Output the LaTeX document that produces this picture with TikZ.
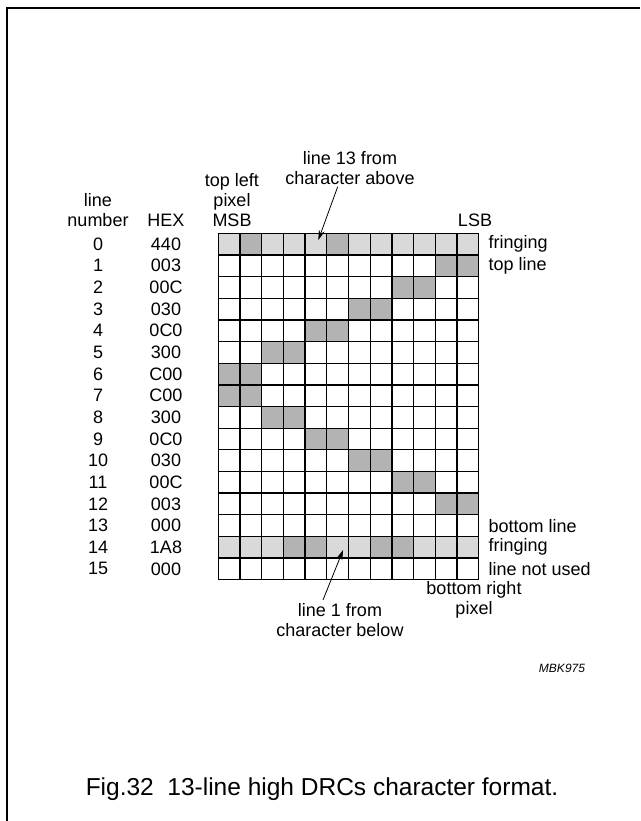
\documentclass[tikz,border=0pt]{standalone}
\usepackage{fontspec}
\setmainfont{Liberation Sans}
\usetikzlibrary{arrows.meta}
\definecolor{fringe}{HTML}{D9D9D9}
\definecolor{pixon}{HTML}{B3B3B3}

\begin{document}
\begin{tikzpicture}[x=1pt, y=-1pt,
    lbl/.style={inner sep=0pt, align=center, font=\fontsize{18}{20}\selectfont},
    side/.style={lbl, anchor=west},
    pointer/.style={-{Stealth[length=10pt,width=6pt]}, line width=0.8pt},
    gridline/.style={line width=1.3pt},
]
\useasboundingbox (0,0) rectangle (640,821);
% frame
\draw[line width=1.6pt] (7,821) -- (7,8) -- (640,8);

% headings
\node[lbl] (linehdr) at (98,210) {line\\number};
\node[lbl] (hexhdr) at (166,220) {HEX};
\node[lbl] (msb) at (232,200) {top left\\pixel\\MSB};
\node[lbl] (lsb) at (475,220) {LSB};
\node[lbl] (above) at (350,168) {line 13 from\\character above};

% character cell
\begin{scope}[shift={(218.3,233.3)}, x=21.7pt, y=-21.65pt]
  \fill[fringe] (0,0) rectangle (12,1);
  \fill[fringe] (0,14) rectangle (12,15);
  \foreach \r/\cols in {0/{1,5},1/{10,11},2/{8,9},3/{6,7},4/{4,5},5/{2,3},6/{0,1},
      7/{0,1},8/{2,3},9/{4,5},10/{6,7},11/{8,9},12/{10,11},14/{3,4,7,8}}
    \foreach \c in \cols
      \fill[pixon] (\c,\r) rectangle ++(1,1);
  \foreach \c in {0,...,12}
    \draw[gridline] (\c,0) -- (\c,16);
  \foreach \r in {0,...,16}
    \draw[gridline] (0,\r) -- (12,\r);

  % line numbers and hex codes
  \foreach \h [count=\r from 0] in {440,003,00C,030,0C0,300,C00,C00,300,0C0,030,00C,003,000,1A8,000} {
    \node[lbl] (num\r) at (-5.54,\r+0.5) {\r};
    \node[lbl] (hex\r) at (-2.41,\r+0.5) {\h};
  }

  \node[side] (fringetop) at (12.45,0.5) {fringing};
  \node[side] (topline) at (12.45,1.5) {top line};
  \node[side] (botline) at (12.45,13.5) {bottom line};
  \node[side] (fringebot) at (12.45,14.5) {fringing};
  \node[side] (unused) at (12.45,15.5) {line not used};

  \coordinate (tip13) at (4.61,0.31);
  \coordinate (tip1) at (5.75,14.63);
\end{scope}

\node[lbl] (botright) at (474,600) {bottom right\\pixel};
\node[lbl] (below) at (340,620) {line 1 from\\character below};
\node[inner sep=0pt, font=\fontsize{12}{14}\selectfont\itshape] (code) at (562,668) {MBK975};

\coordinate (from13) at (337.7,186.7);
\coordinate (from1) at (323,600);
\draw[pointer] (from13) -- (tip13);
\draw[pointer] (from1) -- (tip1);

% caption
\node[inner sep=0pt, font=\fontsize{24.5}{28}\selectfont] (caption) at (322,789) {Fig.32\ \ 13-line high DRCs character format.};
\end{tikzpicture}
\end{document}
